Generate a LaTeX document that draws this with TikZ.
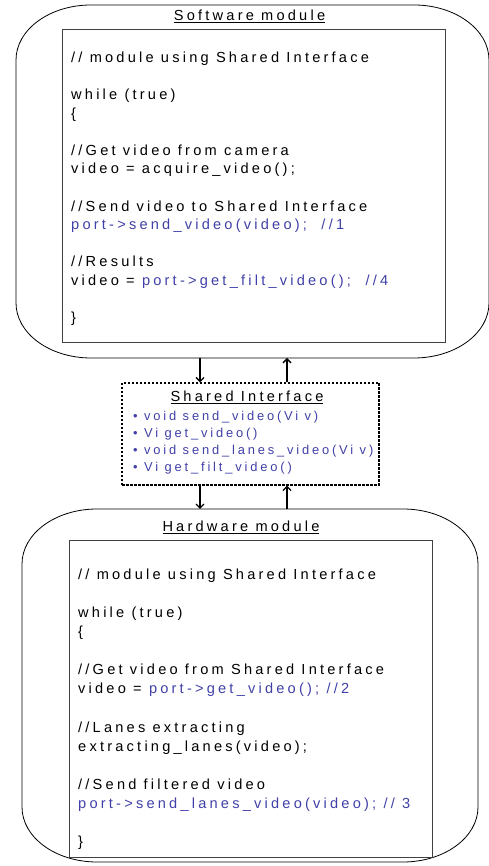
\documentclass[tikz,border=0pt]{standalone}
\usepackage{fontspec}
\usepackage{tikz}
\usetikzlibrary{arrows.meta}
\newfontfamily\codefont{Liberation Sans}[LetterSpace=22]
\definecolor{portblue}{RGB}{64,64,168}

\begin{document}
\begin{tikzpicture}[x=1pt, y=1pt,
	module/.style={draw=black, line width=0.8pt},
	codebox/.style={draw=black!75, line width=1pt, inner sep=0pt},
	codetext/.style={font={\codefont\fontsize{14.6}{#1}\selectfont}, align=left, inner sep=0pt, anchor=north west},
	ifacetext/.style={font={\codefont\fontsize{12.9}{17}\selectfont}, text=portblue, align=left, inner sep=0pt, anchor=north west},
	heading/.style={font={\codefont\fontsize{14.6}{16}\selectfont}, inner sep=0pt, anchor=base},
	flow/.style={line width=1.3pt, -{Straight Barb[length=4pt, width=8pt]}}
]
	\useasboundingbox (0,0) rectangle (488,866);

	\draw[module] (91,861) -- (414,861) arc[start angle=90, end angle=0, x radius=75, y radius=55]
		-- (489,563) arc[start angle=0, end angle=-90, x radius=75, y radius=55]
		-- (91,508) arc[start angle=270, end angle=180, x radius=75, y radius=55]
		-- (16,806) arc[start angle=180, end angle=90, x radius=75, y radius=55] -- cycle;
	\draw[module] (97,357) -- (403,357) arc[start angle=90, end angle=0, x radius=75, y radius=55]
		-- (478,59) arc[start angle=0, end angle=-90, x radius=75, y radius=55]
		-- (97,4) arc[start angle=270, end angle=180, x radius=75, y radius=55]
		-- (22,302) arc[start angle=180, end angle=90, x radius=75, y radius=55] -- cycle;

	\coordinate (swout) at (200,508);
	\coordinate (swin) at (287,508);
	\coordinate (hwin) at (200,357);
	\coordinate (hwout) at (287,357);

	\node[heading] (swtitle) at (249.5,845) {\underline{Software module}};
	\node[codebox, minimum width=383, minimum height=313] (swbox) at (253.5,679.5) {};
	\node[codetext=18.6] (swcode) at (71,814.4) {// module using Shared Interface\\
		\\
		while (true)\\
		\{\\
		\\
		//Get video from camera\\
		video = acquire\_video();\\
		\\
		//Send video to Shared Interface\\
		\textcolor{portblue}{port->send\_video(video);\ \ //1}\\
		\\
		//Results\\
		video = \textcolor{portblue}{port->get\_filt\_video();\ \ //4}\\
		\\
		\}};

	\node[draw, dashed, dash pattern=on 2.5pt off 1.5pt, line width=1.3pt, minimum width=257, minimum height=102, inner sep=0pt] (si) at (250.5,432) {};
	\node[heading] (sititle) at (247,464) {\underline{Shared Interface}};
	\node[ifacetext] (siops) at (133,455.5) {\textbullet\ void send\_video(Vi v)\\
		\textbullet\ Vi get\_video()\\
		\textbullet\ void send\_lanes\_video(Vi v)\\
		\textbullet\ Vi get\_filt\_video()};

	\node[heading] (hwtitle) at (241,334) {\underline{Hardware module}};
	\node[codebox, minimum width=363, minimum height=317] (hwbox) at (250.5,166.5) {};
	\node[codetext=19.1] (hwcode) at (78,297.4) {// module using Shared Interface\\
		\\
		while (true)\\
		\{\\
		\\
		//Get video from Shared Interface\\
		video = \textcolor{portblue}{port->get\_video(); //2}\\
		\\
		//Lanes extracting\\
		extracting\_lanes(video);\\
		\\
		//Send filtered video\\
		\textcolor{portblue}{port->send\_lanes\_video(video); // 3}\\
		\\
		\}};

	\draw[flow] (swout) -- (swout |- si.north);
	\draw[flow] (swin |- si.north) -- (swin);
	\draw[flow] (hwin |- si.south) -- (hwin);
	\draw[flow] (hwout) -- (hwout |- si.south);
\end{tikzpicture}
\end{document}
